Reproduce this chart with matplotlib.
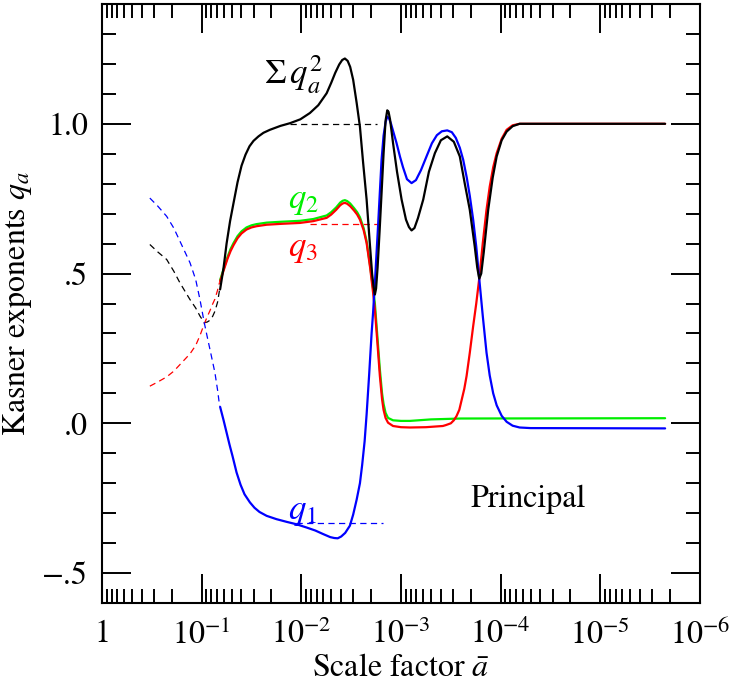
import numpy as np
import matplotlib
matplotlib.use('Agg')
import matplotlib.pyplot as plt
from matplotlib.ticker import MultipleLocator, LogLocator, NullFormatter

plt.rcParams['font.family'] = ['STIXGeneral', 'DejaVu Serif']
plt.rcParams['mathtext.fontset'] = 'stix'

# exponent of the scale factor (log10 a) and Kasner exponents
lg_sum = [-1.185, -1.22, -1.25, -1.285, -1.32, -1.36, -1.40, -1.44, -1.48, -1.52,
          -1.57, -1.62, -1.685, -1.79, -1.886, -1.99, -2.086, -2.17, -2.254, -2.30,
          -2.34, -2.38, -2.41, -2.437, -2.465, -2.49, -2.52, -2.555, -2.588, -2.62,
          -2.655, -2.685, -2.71, -2.725, -2.738, -2.75, -2.765, -2.785, -2.805, -2.825,
          -2.845, -2.862, -2.875, -2.89, -2.92, -2.96, -3.006, -3.05, -3.08, -3.106,
          -3.135, -3.17, -3.223, -3.28, -3.34, -3.40, -3.464, -3.53, -3.59, -3.64,
          -3.69, -3.74, -3.765, -3.785, -3.805, -3.83, -3.875, -3.92, -3.96, -4.01,
          -4.06, -4.12, -4.19, -4.5, -5.65]
sum_q2 = [0.447, 0.52, 0.60, 0.675, 0.736, 0.805, 0.86, 0.897, 0.925, 0.943,
          0.958, 0.970, 0.980, 0.993, 1.002, 1.015, 1.036, 1.062, 1.102, 1.137,
          1.17, 1.198, 1.213, 1.218, 1.21, 1.19, 1.147, 1.07, 0.99, 0.87,
          0.747, 0.61, 0.50, 0.455, 0.43, 0.45, 0.52, 0.64, 0.769, 0.90,
          1.01, 1.045, 1.04, 1.015, 0.936, 0.84, 0.747, 0.68, 0.655, 0.644,
          0.652, 0.685, 0.747, 0.84, 0.902, 0.945, 0.958, 0.94, 0.891, 0.80,
          0.713, 0.59, 0.52, 0.483, 0.50, 0.57, 0.713, 0.82, 0.891, 0.945,
          0.974, 0.992, 1.0, 1.0, 1.0]

lg_q1 = [-1.185, -1.22, -1.25, -1.28, -1.31, -1.35, -1.39, -1.43, -1.484, -1.53,
         -1.58, -1.652, -1.75, -1.852, -1.95, -2.053, -2.14, -2.22, -2.29, -2.33,
         -2.365, -2.40, -2.44, -2.487, -2.52, -2.555, -2.588, -2.61, -2.635, -2.655,
         -2.68, -2.705, -2.72, -2.74, -2.77, -2.805, -2.825, -2.845, -2.862, -2.88,
         -2.90, -2.93, -2.955, -2.99, -3.02, -3.06, -3.106, -3.15, -3.20, -3.256,
         -3.31, -3.36, -3.41, -3.464, -3.51, -3.55, -3.59, -3.624, -3.66, -3.69,
         -3.724, -3.755, -3.785, -3.82, -3.858, -3.89, -3.925, -3.96, -4.01, -4.06,
         -4.12, -4.19, -4.3, -5.65]
q1 = [0.055, 0.01, -0.031, -0.072, -0.11, -0.164, -0.205, -0.237, -0.264, -0.282,
      -0.296, -0.309, -0.32, -0.329, -0.337, -0.348, -0.358, -0.37, -0.38, -0.383,
      -0.384, -0.378, -0.366, -0.342, -0.305, -0.255, -0.20, -0.14, -0.06, 0.03,
      0.16, 0.30, 0.37, 0.48, 0.66, 0.88, 0.96, 1.005, 1.024, 1.018,
      1.0, 0.965, 0.936, 0.89, 0.855, 0.815, 0.802, 0.812, 0.845, 0.891,
      0.935, 0.962, 0.975, 0.978, 0.972, 0.953, 0.92, 0.88, 0.82, 0.76,
      0.68, 0.59, 0.483, 0.36, 0.236, 0.16, 0.10, 0.06, 0.025, 0.005,
      -0.008, -0.014, -0.016, -0.017]

lg_q3 = [-1.185, -1.22, -1.26, -1.29, -1.32, -1.36, -1.40, -1.45, -1.50, -1.55,
         -1.652, -1.80, -1.986, -2.12, -2.254, -2.30, -2.35, -2.39, -2.415, -2.437,
         -2.46, -2.49, -2.53, -2.56, -2.588, -2.625, -2.655, -2.69, -2.72, -2.738,
         -2.763, -2.788, -2.81, -2.825, -2.845, -2.87, -2.92, -3.0, -3.09, -3.25,
         -3.42, -3.45, -3.50, -3.53, -3.557, -3.585, -3.61, -3.635, -3.658, -3.69,
         -3.724, -3.755, -3.785, -3.82, -3.858, -3.89, -3.925, -3.96, -4.01, -4.06,
         -4.12, -4.19, -5.65]
q3 = [0.474, 0.51, 0.55, 0.575, 0.595, 0.618, 0.634, 0.647, 0.654, 0.658,
      0.663, 0.666, 0.669, 0.675, 0.686, 0.697, 0.713, 0.728, 0.734, 0.736,
      0.733, 0.725, 0.71, 0.697, 0.68, 0.645, 0.602, 0.52, 0.436, 0.38,
      0.27, 0.158, 0.08, 0.045, 0.018, 0.002, -0.009, -0.013, -0.014, -0.013,
      -0.009, -0.006, 0.0, 0.01, 0.024, 0.045, 0.08, 0.115, 0.158, 0.235,
      0.324, 0.40, 0.483, 0.60, 0.713, 0.79, 0.855, 0.902, 0.95, 0.98,
      0.995, 1.0, 1.0]

lg_q2 = [-1.185, -1.22, -1.26, -1.29, -1.32, -1.36, -1.40, -1.45, -1.50, -1.55,
         -1.652, -1.80, -1.986, -2.12, -2.254, -2.30, -2.35, -2.39, -2.415, -2.437,
         -2.46, -2.49, -2.53, -2.56, -2.588, -2.625, -2.655, -2.69, -2.72, -2.738,
         -2.763, -2.788, -2.81, -2.825, -2.845, -2.87, -2.92, -3.0, -3.09, -3.3,
         -3.6, -5.65]
q2 = [0.478, 0.515, 0.556, 0.582, 0.602, 0.625, 0.641, 0.654, 0.661, 0.665,
      0.670, 0.673, 0.676, 0.682, 0.694, 0.705, 0.721, 0.737, 0.743, 0.745,
      0.742, 0.734, 0.718, 0.705, 0.688, 0.652, 0.608, 0.526, 0.45, 0.40,
      0.29, 0.18, 0.10, 0.065, 0.035, 0.018, 0.01, 0.008, 0.008, 0.013,
      0.016, 0.017]

# dashed vacuum Kasner extrapolation at early times
lg_dash = [-0.48, -0.56, -0.649, -0.72, -0.782, -0.883, -0.94, -0.983, -1.026,
           -1.055, -1.083, -1.11, -1.133, -1.16, -1.18]
q1_dash = [0.752, 0.725, 0.691, 0.652, 0.608, 0.536, 0.48, 0.413, 0.336,
           0.29, 0.247, 0.205, 0.169, 0.11, 0.058]
q3_dash = [0.124, 0.138, 0.155, 0.174, 0.196, 0.232, 0.26, 0.293, 0.332,
           0.355, 0.376, 0.398, 0.415, 0.445, 0.471]
sum_dash = [0.597, 0.572, 0.547, 0.508, 0.469, 0.413, 0.385, 0.358, 0.336,
            0.338, 0.344, 0.357, 0.374, 0.405, 0.447]

# plateau reference levels
lg_ref_sum, ref_sum = [-1.89, -2.76], 1.0
lg_ref_q3, ref_q3 = [-2.09, -2.80], 0.667
lg_ref_q1, ref_q1 = [-1.95, -2.82], -0.333

xticks = [1, 1e-1, 1e-2, 1e-3, 1e-4, 1e-5, 1e-6]
xticklabels = ['1', r'$10^{-1}$', r'$10^{-2}$', r'$10^{-3}$', r'$10^{-4}$', r'$10^{-5}$', r'$10^{-6}$']
yticks = [-0.5, 0.0, 0.5, 1.0]
yticklabels = ['\u2212.5', '.0', '.5', '1.0']


def a(lg):
    return 10.0 ** np.asarray(lg)


fig = plt.figure(figsize=(7.32, 6.82), dpi=100, facecolor='white')
ax = fig.add_axes([102 / 732, 1 - 603 / 682, 598 / 732, 599 / 682])

blue, red, green = '#0000ff', '#ff0000', '#00ee00'
lw = 1.6
dash = dict(lw=0.9, dashes=(5, 3.5))
solid = dict(lw=lw, solid_joinstyle='round', solid_capstyle='round')

ax.plot(a(lg_dash), sum_dash, color='black', **dash)
ax.plot(a(lg_dash), q3_dash, color=red, **dash)
ax.plot(a(lg_dash), q1_dash, color=blue, **dash)

ax.plot(a(lg_ref_sum), [ref_sum] * 2, color='black', **dash)
ax.plot(a(lg_ref_q3), [ref_q3] * 2, color=red, **dash)
ax.plot(a(lg_ref_q1), [ref_q1] * 2, color=blue, **dash)

ax.plot(a(lg_q2), q2, color=green, **solid)
ax.plot(a(lg_q3), q3, color=red, **solid)
ax.plot(a(lg_q1), q1, color=blue, **solid)
ax.plot(a(lg_sum), sum_q2, color='black', **solid)

ax.set_xscale('log')
ax.set_xlim(1, 1e-6)
ax.set_ylim(-0.6, 1.4)

ax.set_xticks(xticks)
ax.set_xticklabels(xticklabels)
ax.xaxis.set_minor_locator(LogLocator(base=10, subs=np.arange(2, 10)))
ax.xaxis.set_minor_formatter(NullFormatter())
ax.set_yticks(yticks)
ax.set_yticklabels(yticklabels)
ax.yaxis.set_minor_locator(MultipleLocator(0.1))

ax.tick_params(which='both', direction='in', top=True, right=True, width=1.4, colors='black')
ax.tick_params(which='major', length=21, labelsize=23)
ax.tick_params(which='minor', length=10)
ax.tick_params(axis='x', which='major', pad=12)
ax.tick_params(axis='y', which='major', pad=10)
for s in ax.spines.values():
    s.set_linewidth(1.5)

ax.set_xlabel(r'Scale factor $\bar{a}$', fontsize=23, labelpad=2)
ax.set_ylabel(r'Kasner exponents $q_a$', fontsize=23, labelpad=6)

ax.text(10 ** -1.63, 1.13, r'$\Sigma\, q_a^2$', fontsize=25, color='black')
ax.text(10 ** -1.87, 0.72, r'$q_2$', fontsize=25, color=green)
ax.text(10 ** -1.87, 0.56, r'$q_3$', fontsize=25, color=red)
ax.text(10 ** -1.87, -0.32, r'$q_1$', fontsize=25, color=blue)
ax.text(10 ** -3.7, -0.28, 'Principal', fontsize=23, color='black')

fig.savefig('out.png', dpi=100)
